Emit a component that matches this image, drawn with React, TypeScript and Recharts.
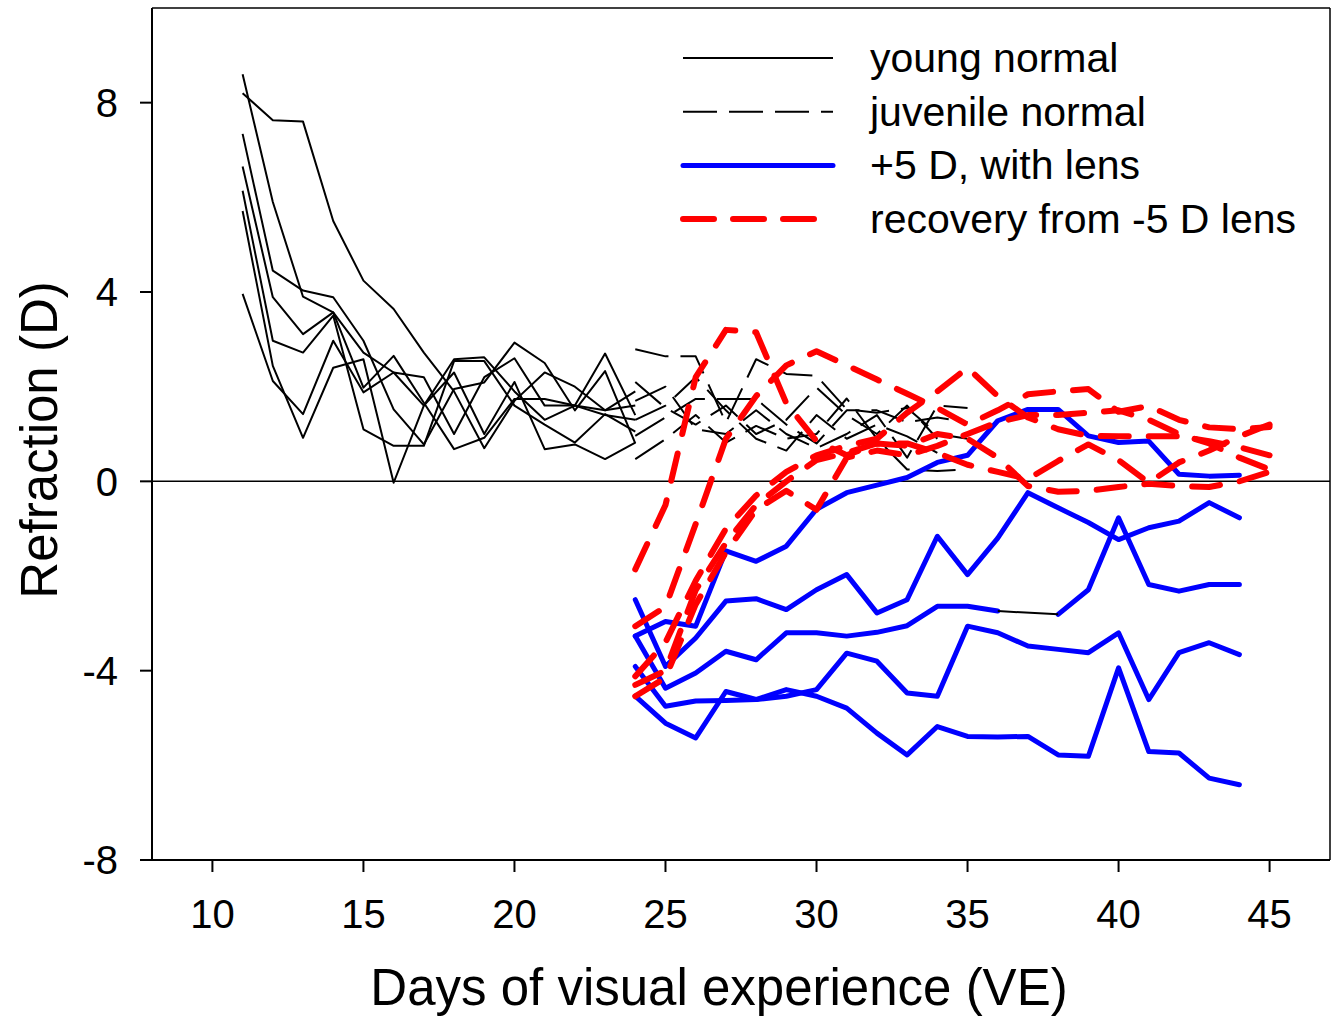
import React from 'react';
import { LineChart, Line, XAxis, YAxis, ReferenceLine, Legend, Label } from 'recharts';

// ---------- data ----------
const youngDays = [11, 12, 13, 14, 15, 16, 17, 18, 19, 20, 21, 22, 23, 24];
const young1 = [8.2, 7.63, 7.6, 5.5, 4.24, 3.64, 2.72, 1.9, 0.7, 1.7, 2.3, 2.0, 1.5, 1.9];
const young2 = [8.6, 5.9, 3.9, 3.57, 2.72, 2.3, 1.6, 2.58, 2.62, 1.9, 1.3, 1.6, 1.4, 1.3];
const young3 = [7.34, 4.45, 4.03, 3.89, 2.97, 1.52, 0.78, 1.95, 2.09, 2.93, 2.5, 1.5, 2.33, 0.8];
const young4 = [6.65, 3.89, 3.11, 3.57, 1.98, 2.65, 1.66, 0.68, 0.92, 1.74, 1.74, 1.6, 1.5, 1.6];
const young5 = [6.14, 2.97, 2.72, 3.5, 1.1, 0.75, 0.75, 2.54, 2.54, 1.6, 1.2, 0.82, 1.42, 1.05];
const young6 = [5.71, 2.44, 0.92, 2.4, 2.58, -0.03, 1.6, 2.3, 1.0, 2.1, 0.68, 0.78, 0.47, 0.82];
const young7 = [3.96, 2.12, 1.42, 2.97, 1.88, 2.3, 2.2, 1.0, 2.2, 2.6, 1.6, 1.6, 2.7, 1.4];

const juvenileDays = [24, 25, 26, 27, 28, 29, 30, 31, 32, 33, 34, 35];
const juvenile1 = [2.79, 2.64, 2.64, 1.24, 2.58, 2.27, 2.23, 1.52, 1.45, 1.55, 1.0, 0.9];
const juvenile2 = [0.96, 1.35, 1.74, 1.74, 1.74, 1.2, 0.8, 1.5, 1.5, 1.25, 1.35, 1.25];
const juvenile3 = [0.47, 0.89, 1.4, 0.82, 1.17, 0.9, 1.0, 1.75, 0.9, 0.25, 0.22, 0.25];
const juvenile4 = [2.1, 1.55, 1.2, 1.6, 1.0, 1.3, 1.98, 1.4, 1.0, 1.6, 0.9];
const juvenile5 = [1.7, 2.0, 1.1, 1.0, 1.5, 1.0, 0.7, 1.0, 1.4, 0.5, 1.6, 1.55];
const juvenile6 = [1.3, 1.6, 2.2, 1.5, 0.9, 0.65, 1.4, 0.9, 1.2, 0.95, 0.6];

const lensDays = [24, 25, 26, 27, 28, 29, 30, 31, 32, 33, 34, 35, 36, 37, 38, 39, 40, 41, 42, 43, 44];
const lens1 = [-3.27, -2.96, -3.06, -1.47, -1.69, -1.37, -0.59, -0.24, -0.08, 0.08, 0.4, 0.55, 1.28, 1.52, 1.52, 0.96, 0.82, 0.85, 0.15, 0.11, 0.13];
const lens2 = [-2.5, -3.91, -3.31, -2.53, -2.48, -2.71, -2.29, -1.97, -2.78, -2.5, -1.16, -1.97, -1.2, -0.24, -0.56, -0.87, -1.23, -0.98, -0.84, -0.45, -0.77];
const lens3 = [-3.27, -4.37, -4.05, -3.59, -3.77, -3.2, -3.2, -3.27, -3.19, -3.05, -2.64, -2.64, -2.74, null, -2.81, -2.29, -0.77, -2.18, -2.32, -2.18, -2.18];
const lens4 = [-3.91, -4.75, -4.64, -4.63, -4.61, -4.54, -4.4, -3.63, -3.8, -4.47, -4.54, -3.06, -3.2, -3.48, -3.55, -3.62, -3.2, -4.61, -3.62, -3.41, -3.66];
const lens5 = [-4.54, -5.11, -5.42, -4.44, -4.61, -4.4, -4.54, -4.79, -5.32, -5.78, -5.18, -5.39, -5.4, -5.39, -5.78, -5.81, -3.94, -5.71, -5.74, -6.27, -6.41];

const recoveryDays = [24, 25, 26, 27, 28, 29, 30, 31, 32, 33, 34, 35, 36, 37, 38, 39, 40, 41, 42, 43, 44, 45];
const recovery1 = [-1.86, -0.5, 2.2, 3.2, 3.15, 1.65, 0.85, 0.55, 0.8, 0.75, 1.0, 0.9, 0.5, -0.1, -0.22, -0.2, -0.12, -0.05, -0.1, -0.12, 0.0, 0.2];
const recovery2 = [-3.06, -2.65, -0.9, 0.9, 1.8, 2.45, 2.75, 2.45, 2.15, 1.85, 1.55, 1.2, 1.5, 1.84, 1.9, 1.95, 1.47, 1.59, 1.3, 1.14, 1.1, 1.15];
const recovery3 = [-4.12, -3.4, -2.1, -1.0, -0.3, 0.2, 0.55, 0.75, 0.9, 1.45, 1.9, 2.4, 1.8, 1.35, 1.1, 0.96, 0.95, 0.95, 0.95, 0.85, 0.72, 0.55];
const recovery4 = [-4.3, -4.0, -2.3, -1.3, -0.5, 0.0, 0.45, 0.6, 0.8, 0.8, 0.6, 0.35, 0.2, 0.05, 0.43, 0.78, 0.45, -0.03, 0.4, 0.65, 0.95, 1.2];
const recovery5 = [-4.54, -4.15, -2.6, -1.5, -0.6, -0.2, -0.6, 0.5, 0.65, 0.55, 0.75, 1.0, 1.25, 1.4, 1.4, 1.45, 1.5, 1.3, 1.0, 0.8, 0.5, 0.25];

const xTicks = [10, 15, 20, 25, 30, 35, 40, 45];
const yTicks = [-8, -4, 0, 4, 8];
const legendLabels = ['young normal', 'juvenile normal', '+5 D, with lens', 'recovery from -5 D lens'];
const xTitle = 'Days of visual experience (VE)';
const yTitle = 'Refraction (D)';

// ---------- series table ----------
type Group = 'young' | 'juvenile' | 'lens' | 'recovery' | 'link';
type Series = { key: string; days: number[]; values: (number | null)[]; group: Group };

const groupOf = (prefix: string, group: Group, days: number[], list: (number | null)[][]): Series[] =>
  list.map((values, i) => ({ key: `${prefix}${i + 1}`, days, values, group }));

const lensSeries = groupOf('lens', 'lens', lensDays, [lens1, lens2, lens3, lens4, lens5]);

// thin black connector drawn across a missing value of a lens series
const linkSeries: Series[] = [];
lensSeries.forEach((s) => {
  s.values.forEach((v, i) => {
    if (v === null && i > 0 && i < s.values.length - 1) {
      linkSeries.push({
        key: `link_${s.key}_${i}`,
        days: [s.days[i - 1], s.days[i + 1]],
        values: [s.values[i - 1], s.values[i + 1]],
        group: 'link',
      });
    }
  });
});

const allSeries: Series[] = [
  ...groupOf('young', 'young', youngDays, [young1, young2, young3, young4, young5, young6, young7]),
  ...groupOf('juv', 'juvenile', juvenileDays, [juvenile1, juvenile2, juvenile3, juvenile4, juvenile5, juvenile6]),
  ...lensSeries,
  ...linkSeries,
  ...groupOf('rec', 'recovery', recoveryDays, [recovery1, recovery2, recovery3, recovery4, recovery5]),
];

const rowMap = new Map<number, Record<string, number | null>>();
allSeries.forEach((s) => {
  s.values.forEach((v, i) => {
    const d = s.days[i];
    const row = rowMap.get(d) ?? { day: d };
    row[s.key] = v;
    rowMap.set(d, row);
  });
});
const data = Array.from(rowMap.values()).sort((a, b) => (a.day as number) - (b.day as number));

// ---------- styles ----------
const FONT = '"Liberation Sans", Arial, Helvetica, sans-serif';
const styleOf: Record<Group, { stroke: string; width: number; dash?: string; cap?: 'round' | 'butt' }> = {
  young: { stroke: '#000000', width: 2 },
  juvenile: { stroke: '#000000', width: 2, dash: '34 12' },
  lens: { stroke: '#0000ff', width: 5, cap: 'round' },
  link: { stroke: '#000000', width: 2 },
  recovery: { stroke: '#ff0000', width: 6, dash: '28 20', cap: 'round' },
};
const legendGroups: Group[] = ['young', 'juvenile', 'lens', 'recovery'];

const LegendBox = () => (
  <svg width={680} height={240} style={{ display: 'block' }}>
    {legendLabels.map((label, i) => {
      const g = legendGroups[i];
      const st = styleOf[g];
      const cy = 38 + i * 53.7;
      const isRec = g === 'recovery';
      return (
        <g key={label}>
          <line
            x1={23}
            x2={isRec ? 158 : 173}
            y1={cy}
            y2={cy}
            stroke={st.stroke}
            strokeWidth={st.width}
            strokeDasharray={isRec ? '31 19' : st.dash}
            strokeLinecap={st.cap ?? 'butt'}
          />
          <text x={210} y={cy + 14} fontSize={41} fontFamily={FONT} fill="#000">
            {label}
          </text>
        </g>
      );
    })}
  </svg>
);

const XTitle = (props: any) => {
  const vb = props.viewBox;
  return (
    <text x={vb.x + vb.width / 2 - 22} y={vb.y + vb.height - 5} textAnchor="middle" fontSize={51} fontFamily={FONT} fill="#000">
      {xTitle}
    </text>
  );
};

const YTitle = (props: any) => {
  const vb = props.viewBox;
  const cx = 57;
  const cy = vb.y + vb.height / 2 + 6;
  return (
    <text x={cx} y={cy} transform={`rotate(-90, ${cx}, ${cy})`} textAnchor="middle" fontSize={51} fontFamily={FONT} fill="#000">
      {yTitle}
    </text>
  );
};

export default function App() {
  return (
    <div style={{ position: 'absolute', left: 0, top: 0, background: '#fff' }}>
      <LineChart width={1339} height={1019} data={data} margin={{ top: 8, right: 9, bottom: 9, left: 0 }}>
        <XAxis
          type="number"
          dataKey="day"
          domain={[8, 47]}
          ticks={xTicks}
          allowDataOverflow
          height={150}
          tickSize={12}
          tickMargin={28}
          axisLine={{ stroke: '#000', strokeWidth: 2 }}
          tickLine={{ stroke: '#000', strokeWidth: 2 }}
          tick={{ fill: '#000', fontSize: 40, fontFamily: FONT }}
        >
          <Label content={XTitle} />
        </XAxis>
        <YAxis
          type="number"
          domain={[-8, 10]}
          ticks={yTicks}
          allowDataOverflow
          width={152}
          tickSize={12}
          tickMargin={22}
          axisLine={{ stroke: '#000', strokeWidth: 2 }}
          tickLine={{ stroke: '#000', strokeWidth: 2 }}
          tick={{ fill: '#000', fontSize: 40, fontFamily: FONT }}
        >
          <Label content={YTitle} />
        </YAxis>
        <ReferenceLine y={10} stroke="#000" strokeWidth={1.5} />
        <ReferenceLine x={47} stroke="#000" strokeWidth={1.5} />
        <ReferenceLine y={0} stroke="#000" strokeWidth={1.5} />
        {allSeries.map((s) => {
          const st = styleOf[s.group];
          return (
            <Line
              key={s.key}
              dataKey={s.key}
              type="linear"
              stroke={st.stroke}
              strokeWidth={st.width}
              strokeDasharray={st.dash}
              strokeLinecap={st.cap ?? 'butt'}
              strokeLinejoin="round"
              dot={false}
              activeDot={false}
              connectNulls={s.group === 'link'}
              isAnimationActive={false}
              legendType="none"
            />
          );
        })}
        <Legend
          layout="vertical"
          align="center"
          verticalAlign="middle"
          content={() => <LegendBox />}
          wrapperStyle={{ left: 660, top: 20, width: 680, height: 240 }}
        />
      </LineChart>
    </div>
  );
}
